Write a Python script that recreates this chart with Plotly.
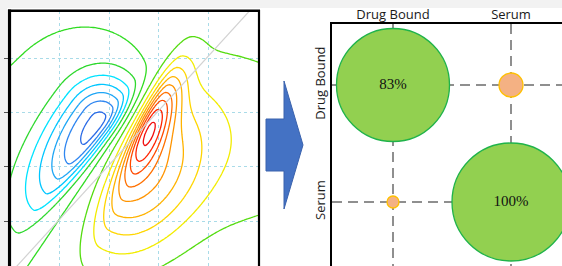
import numpy as np
import plotly.graph_objects as go

W, H = 562, 266

# ---------------- left panel: 2D correlation-style contour field ----------------
# split-Gaussian lobes (data units): centre, amplitude, angle, sigmas (+u, -u, +v, -v)
lobe_cx = [2.85, 2.60, 1.80, 4.80]
lobe_cy = [2.82, 1.90, 2.80, 2.50]
lobe_amp = [5.5, 5.0, -6.6, 1.5]
lobe_angle_deg = [62, 60, 50, 0]
lobe_sig_up = [0.75, 1.10, 0.62, 1.5]
lobe_sig_um = [0.70, 1.15, 1.35, 1.5]
lobe_sig_vp = [0.15, 0.35, 0.55, 1.5]
lobe_sig_vm = [0.25, 0.80, 0.20, 1.5]

grid_x = np.linspace(0.0, 5.05, 127)
grid_y = np.linspace(0.15, 4.90, 120)

level_start, level_end, level_step = -7, 10, 1
level_colors = [
    "#2a5ee0",                                                # -7
    "#2a6ae6", "#2f86f0", "#1fa6f5", "#00c6ff", "#00e2ff",   # -6 .. -2
    "#2ed82e", "#30dc22", "#55dc10",                          # -1 .. +1
    "#f2ec00", "#ffd600", "#ffb300", "#ff9400", "#ff7000",   # +2 .. +6
    "#ff4a00", "#ff2400", "#f00c0c", "#dd0000",              # +7 .. +10
]

diag_x = [0.0, 5.1]
diag_y = [0.03, 5.13]

tick_vals_left = [1, 2, 3, 4]

# ---------------- right panel: bubble matrix ----------------
cats = ["Drug Bound", "Serum"]
bubble_x = ["Drug Bound", "Serum", "Serum", "Drug Bound"]
bubble_y = ["Drug Bound", "Drug Bound", "Serum", "Serum"]
bubble_size = [113, 24, 118, 12]
bubble_text = ["83%", "", "100%", ""]
bubble_fill = ["#92d050", "#f4b183", "#92d050", "#f4b183"]
bubble_edge = ["#1fb34a", "#ffc000", "#1fb34a", "#ffc000"]

# ---------------- build field ----------------
GX, GY = np.meshgrid(grid_x, grid_y)
Z = np.zeros_like(GX)
for cx, cy, a, ang, sup, sum_, svp, svm in zip(lobe_cx, lobe_cy, lobe_amp, lobe_angle_deg,
                                               lobe_sig_up, lobe_sig_um, lobe_sig_vp, lobe_sig_vm):
    t = np.deg2rad(ang)
    u = (GX - cx) * np.cos(t) + (GY - cy) * np.sin(t)
    v = -(GX - cx) * np.sin(t) + (GY - cy) * np.cos(t)
    su = np.where(u >= 0, sup, sum_)
    sv = np.where(v >= 0, svp, svm)
    Z += a * np.exp(-0.5 * (u ** 2 / su ** 2 + v ** 2 / sv ** 2))

n_lev = len(level_colors)
cscale = [[i / (n_lev - 1), c] for i, c in enumerate(level_colors)]

fig = go.Figure()

fig.add_trace(go.Contour(
    x=grid_x, y=grid_y, z=Z,
    contours=dict(start=level_start, end=level_end, size=level_step, coloring="lines"),
    colorscale=cscale, zmin=level_start, zmax=level_end,
    showscale=False, line=dict(width=1.3, smoothing=1.0),
    hoverinfo="skip", xaxis="x", yaxis="y",
))

fig.add_trace(go.Scatter(
    x=diag_x, y=diag_y, mode="lines",
    line=dict(color="#d2d2d2", width=1.2),
    hoverinfo="skip", showlegend=False, xaxis="x", yaxis="y",
))

fig.add_trace(go.Scatter(
    x=bubble_x, y=bubble_y, mode="markers+text",
    text=bubble_text, textposition="middle center",
    textfont=dict(family="Liberation Serif", size=15, color="#111111"),
    marker=dict(size=bubble_size, color=bubble_fill, opacity=1,
                line=dict(color=bubble_edge, width=1.3)),
    hoverinfo="skip", showlegend=False, xaxis="x2", yaxis="y2",
    cliponaxis=False,
))


def px_x(p):
    return p / W


def px_y(p):
    return 1 - p / H


Lx0, Lx1, Ly0 = 10, 259, 11
Rx0, Ry0 = 332, 24

fig.update_layout(
    width=W, height=H, margin=dict(l=0, r=0, t=0, b=0, autoexpand=False),
    paper_bgcolor="white", plot_bgcolor="white", showlegend=False,
    xaxis=dict(domain=[px_x(Lx0), px_x(Lx1)], range=[0, (Lx1 - Lx0) / 49.5],
               tickvals=tick_vals_left, showticklabels=False, ticks="",
               showgrid=True, gridcolor="#a9dbe8", griddash="dot", gridwidth=1,
               zeroline=False, showline=False, automargin=False),
    yaxis=dict(domain=[0, px_y(Ly0)], range=[1 - 45 / 54.3, 1 + 210 / 54.3],
               tickvals=tick_vals_left, showticklabels=False, ticks="outside",
               ticklen=5, tickcolor="#555555", tickwidth=1,
               showgrid=True, gridcolor="#a9dbe8", griddash="dot", gridwidth=1,
               zeroline=False, showline=False, automargin=False),
    xaxis2=dict(domain=[px_x(Rx0), 1], type="category", categoryarray=cats,
                range=[(Rx0 - 393) / 118, (W - 393) / 118], side="top",
                anchor="y2", showgrid=True, gridcolor="#8f8f8f", gridwidth=2,
                griddash="10px,6px", ticks="", showline=True, linecolor="black",
                linewidth=1.5, zeroline=False, automargin=False,
                ticklabelstandoff=-2,
                tickfont=dict(family="Open Sans", size=13, color="#1a1a1a")),
    yaxis2=dict(domain=[0, px_y(Ry0)], type="category", categoryarray=cats,
                range=[(H - 85) / 117, (Ry0 - 85) / 117], anchor="x2",
                showgrid=True, gridcolor="#8f8f8f", gridwidth=2,
                griddash="10px,6px", ticks="", showline=True, linecolor="black",
                linewidth=1.5, zeroline=False, tickangle=-90, automargin=False,
                tickfont=dict(family="Open Sans", size=13, color="#1a1a1a")),
)

shapes = []
shapes.append(dict(type="rect", xref="paper", yref="paper", x0=0, x1=1,
                   y0=px_y(8), y1=1, fillcolor="#f2f2f2", line=dict(width=0), layer="below"))
shapes.append(dict(type="rect", xref="paper", yref="paper", x0=0, x1=px_x(7),
                   y0=0, y1=1, fillcolor="#f2f2f2", line=dict(width=0), layer="below"))
shapes.append(dict(type="line", xref="paper", yref="paper", x0=px_x(9.5), x1=px_x(9.5),
                   y0=0, y1=px_y(9.5), line=dict(color="black", width=3.2)))
shapes.append(dict(type="line", xref="paper", yref="paper", x0=px_x(8), x1=px_x(260),
                   y0=px_y(10.8), y1=px_y(10.8), line=dict(color="black", width=2.6)))
shapes.append(dict(type="line", xref="paper", yref="paper", x0=px_x(259), x1=px_x(259),
                   y0=0, y1=px_y(10), line=dict(color="black", width=2.2)))
ax = [266, 284, 284, 303, 284, 284, 266]
ay = [119, 119, 81, 145, 209, 171, 171]
path = "M " + " L ".join(f"{px_x(a):.5f},{px_y(b):.5f}" for a, b in zip(ax, ay)) + " Z"
shapes.append(dict(type="path", xref="paper", yref="paper", path=path,
                   fillcolor="#4472c4", line=dict(color="#3a62ad", width=1)))
fig.update_layout(shapes=shapes)

fig.write_html(
    "out.html",
    config={"displayModeBar": False},
    post_script="document.body.style.margin='0px';document.body.style.overflow='hidden';",
)
